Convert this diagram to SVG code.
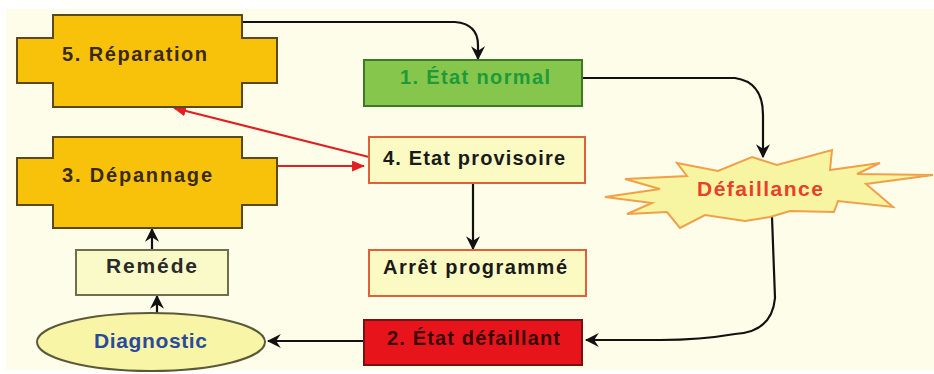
<svg xmlns="http://www.w3.org/2000/svg" width="934" height="374" viewBox="0 0 934 374">
  <defs>
    <marker id="arrowBlack" viewBox="0 0 12 12" refX="11" refY="6" markerWidth="14" markerHeight="14" markerUnits="userSpaceOnUse" orient="auto">
      <path d="M0,0 L12,6 L0,12 L4,6 Z" fill="#111"/>
    </marker>
    <marker id="arrowRed" viewBox="0 0 12 10" refX="11" refY="5" markerWidth="13" markerHeight="11" markerUnits="userSpaceOnUse" orient="auto">
      <path d="M0,0 L12,5 L0,10 Z" fill="#e02020"/>
    </marker>
    <style>
      .lbl { font-family: "Liberation Sans", Arial, sans-serif; font-weight: bold; font-size: 20px; }
      .big { font-size: 21px; }
      .cross { fill: #f9c20a; stroke: #5a4a1a; stroke-width: 2; }
      .pale { fill: #fafac2; stroke: #e0603a; stroke-width: 2; }
      .edge { fill: none; stroke: #111; stroke-width: 2.2; }
      .edgeRed { fill: none; stroke: #e02020; stroke-width: 2; }
    </style>
  </defs>

  <!-- page -->
  <rect x="0" y="0" width="934" height="374" fill="#ffffff"/>
  <rect x="6" y="9" width="928" height="361" fill="#fdfdea"/>

  <!-- connectors -->
  <g id="connectors">
    <path class="edge" d="M242,22 H455 Q478,24 478,45 V59" marker-end="url(#arrowBlack)"/>
    <path class="edge" d="M582,78 H735 Q763,82 763,115 V157" marker-end="url(#arrowBlack)"/>
    <path class="edge" d="M772,217 L775,298 Q772,332 735,334 Q700,340 660,340 H586" marker-end="url(#arrowBlack)"/>
    <path class="edge" d="M364,341 H268" marker-end="url(#arrowBlack)"/>
    <path class="edge" d="M157,313 V296" marker-end="url(#arrowBlack)"/>
    <path class="edge" d="M152,250 V229" marker-end="url(#arrowBlack)"/>
    <path class="edge" d="M473,183 V249" marker-end="url(#arrowBlack)"/>
    <path class="edgeRed" d="M369,157 L174,108" marker-end="url(#arrowRed)"/>
    <path class="edgeRed" d="M277,166 H364" marker-end="url(#arrowRed)"/>
  </g>

  <!-- 5. Réparation -->
  <g id="reparation">
    <path class="cross" d="M53,15 H242 V38 H277 V83 H242 V107 H53 V83 H17 V38 H53 Z"/>
    <text class="lbl" x="62" y="61" fill="#3a2a12" textLength="145" lengthAdjust="spacing">5. Réparation</text>
  </g>

  <!-- 3. Dépannage -->
  <g id="depannage">
    <path class="cross" d="M53,137 H242 V158 H277 V205 H242 V228 H53 V205 H17 V158 H53 Z"/>
    <text class="lbl" x="62" y="182" fill="#3a2a12" textLength="150" lengthAdjust="spacing">3. Dépannage</text>
  </g>

  <!-- 1. État normal -->
  <g id="etat-normal">
    <rect x="364" y="60" width="218" height="46" fill="#86c64c" stroke="#3d7a28" stroke-width="2"/>
    <text class="lbl" x="400" y="84" fill="#1e9a3a" textLength="150" lengthAdjust="spacing">1. État normal</text>
  </g>

  <!-- 4. Etat provisoire -->
  <g id="etat-provisoire">
    <rect class="pale" x="369" y="137" width="216" height="46"/>
    <text class="lbl" x="383" y="165" fill="#1a1a1a" textLength="182" lengthAdjust="spacing">4. Etat provisoire</text>
  </g>

  <!-- Arrêt programmé -->
  <g id="arret-programme">
    <rect class="pale" x="369" y="250" width="217" height="46"/>
    <text class="lbl" x="383" y="274" fill="#1a1a1a" textLength="184" lengthAdjust="spacing">Arrêt programmé</text>
  </g>

  <!-- 2. État défaillant -->
  <g id="etat-defaillant">
    <rect x="364" y="320" width="218" height="45" fill="#e8141c" stroke="#7a1010" stroke-width="2"/>
    <text class="lbl" x="387" y="345" fill="#3a0808" textLength="173" lengthAdjust="spacing">2. État défaillant</text>
  </g>

  <!-- Reméde -->
  <g id="remede">
    <rect x="76" y="250" width="152" height="45" fill="#fafac8" stroke="#6e6e50" stroke-width="2"/>
    <text class="lbl big" x="106" y="273" fill="#2a2a2a" textLength="91" lengthAdjust="spacing">Reméde</text>
  </g>

  <!-- Diagnostic -->
  <g id="diagnostic">
    <ellipse cx="151" cy="342" rx="114" ry="29" fill="#f8f5a6" stroke="#5a5a3a" stroke-width="2"/>
    <text class="lbl big" x="94" y="348" fill="#2a4a9e" textLength="113" lengthAdjust="spacing">Diagnostic</text>
  </g>

  <!-- Défaillance -->
  <g id="defaillance">
    <polygon points="605,197 660,189 625,179 687,176 677,163 718,171 752,157 777,165 832,150 830,170 880,163 857,174 933,175 866,184 893,207 838,201 834,212 790,211 770,217 745,221 705,215 680,228 667,212 627,214 652,203"
             fill="#f8f5a2" stroke="#f0a048" stroke-width="2" stroke-linejoin="miter"/>
    <text class="lbl big" x="697" y="196" fill="#e8402a" textLength="126" lengthAdjust="spacing">Défaillance</text>
  </g>
</svg>
